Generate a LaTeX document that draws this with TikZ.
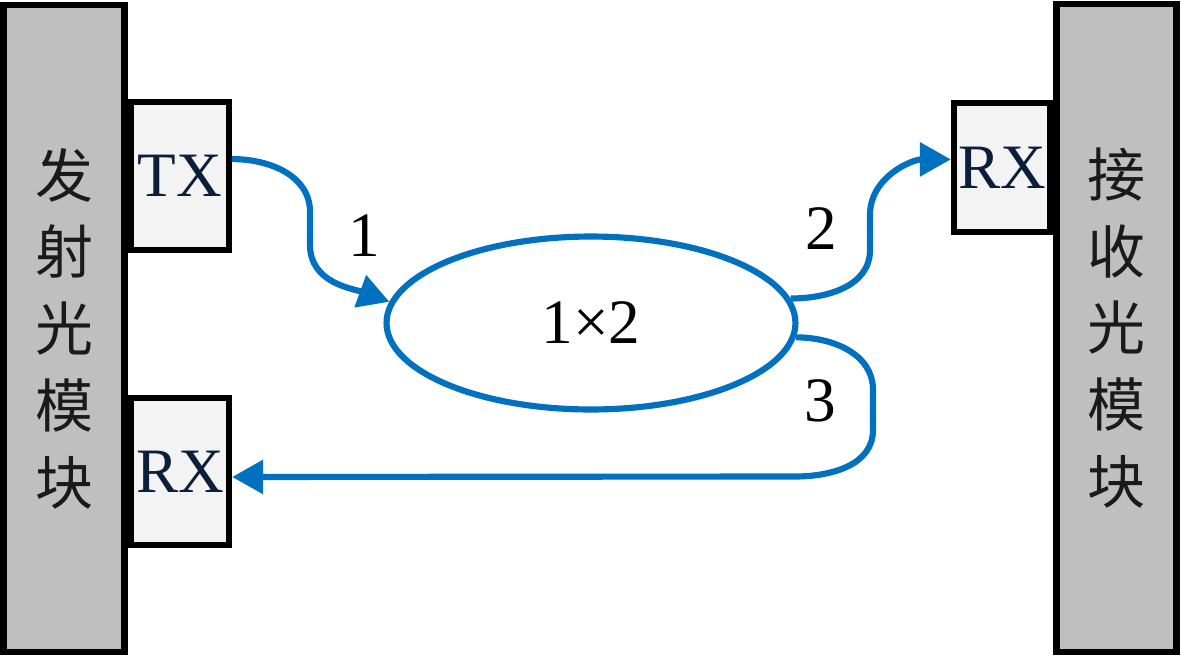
\documentclass[tikz,border=0pt]{standalone}
\usepackage{fontspec}
\setmainfont{Liberation Serif}
\newfontfamily\cjk{Noto Sans CJK SC}
\usetikzlibrary{shapes.geometric,arrows.meta}
\definecolor{modgray}{HTML}{BFBFBF}
\definecolor{portfill}{HTML}{F3F3F3}
\definecolor{fiber}{HTML}{0070C0}
\definecolor{porttext}{HTML}{0C1F3A}
\definecolor{cjktext}{HTML}{1A1A1A}
\begin{document}
\begin{tikzpicture}[x=0.02cm,y=-0.02cm,
  module/.style={draw=black, line width=3.7pt, fill=modgray, minimum width=2.42cm,
    minimum height=12.94cm, inner sep=0pt, align=center, text=cjktext,
    font=\cjk\fontsize{33}{43.7}\selectfont},
  port/.style={draw=black, line width=3.6pt, fill=portfill, inner sep=0pt,
    text=porttext, font=\fontsize{36}{40}\selectfont},
  fiberline/.style={draw=fiber, line width=3.5pt},
  fiberarrow/.style={fiberline, -{Triangle[length=0.62cm,width=0.66cm]}},
  lbl/.style={inner sep=0pt, font=\fontsize{36}{40}\selectfont}]
\useasboundingbox (0,0) rectangle (1181,657);
% modules
\node[module] (lmod) at (64,328.5) {发\\射\\光\\模\\块};
\node[module, minimum width=2.4cm, minimum height=12.96cm] (rmod) at (1116.5,328) {接\\收\\光\\模\\块};
% ports
\node[port, minimum width=1.96cm, minimum height=2.96cm] (tx) at (180,176) {TX};
\node[port, minimum width=1.96cm, minimum height=2.94cm] (lrx) at (180,471.5) {RX};
\node[port, minimum width=1.92cm, minimum height=2.58cm] (rrx) at (1002,167.5) {RX};
% splitter
\node[ellipse, draw=fiber, line width=3.5pt, minimum width=8.18cm, minimum height=3.46cm,
  inner sep=0pt, font=\fontsize{36}{40}\selectfont] (split) at (591,323) {1×2};
% waypoints
\coordinate (a1) at (310,212);
\coordinate (a2) at (310,245);
\coordinate (b1) at (870,250);
\coordinate (b2) at (870,215);
\coordinate (c1) at (873,390);
\coordinate (c2) at (873,430);
\coordinate (c3) at (795,476.5);
% connectors
\draw[fiberarrow] (tx.18) to[out=0,in=90] (a1) -- (a2) to[out=-90,in=160] (split.174);
\draw[fiberarrow] (split.7) to[out=0,in=-90] (b1) -- (b2) to[out=90,in=180] (rrx.171);
\draw[fiberarrow] (split.-4) to[out=0,in=90] (c1) -- (c2) to[out=-90,in=0] (c3) -- (lrx.-6);
% labels
\node[lbl] (l1) at (364,236) {1};
\node[lbl] (l2) at (821,229) {2};
\node[lbl] (l3) at (820,401) {3};
\end{tikzpicture}
\end{document}
